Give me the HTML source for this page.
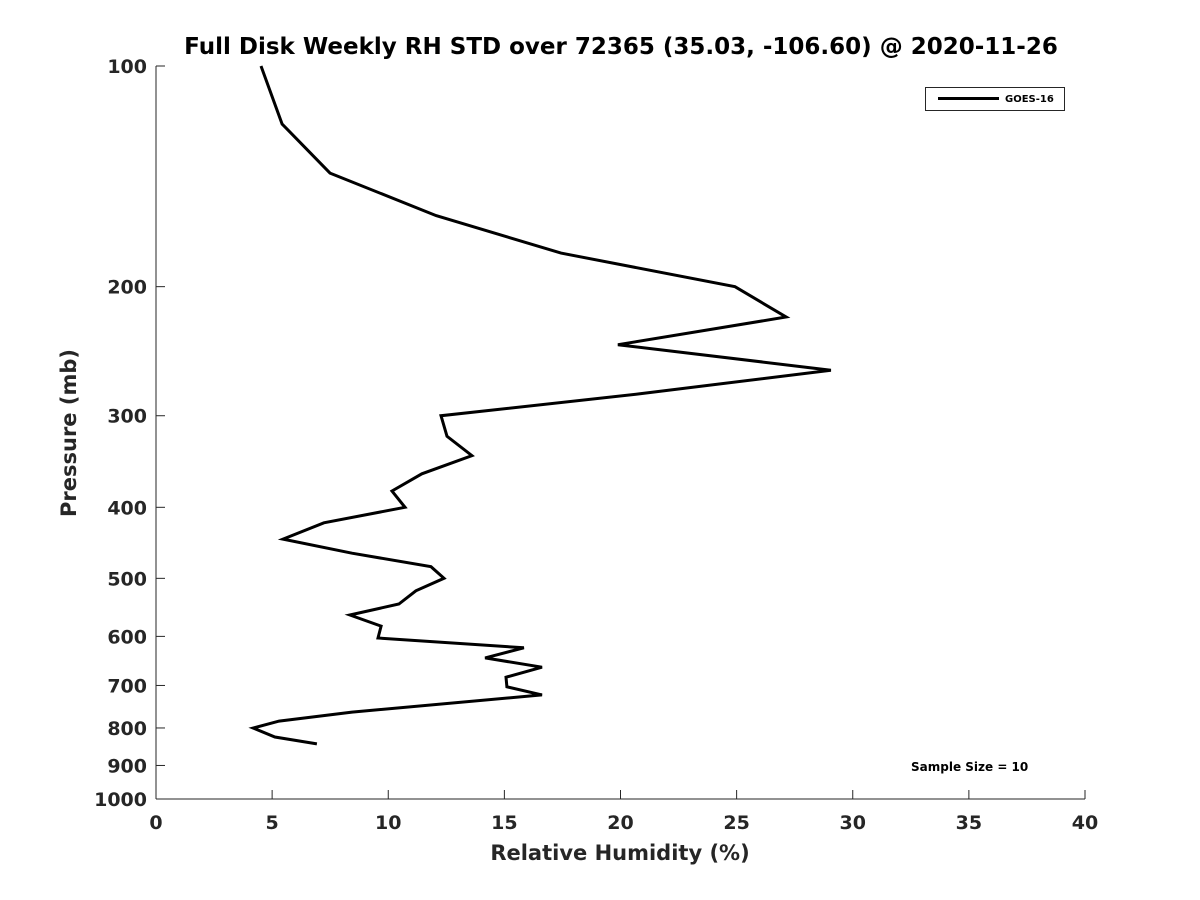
<!DOCTYPE html>
<html><head><meta charset="utf-8"><style>
body{margin:0;background:#fff}
svg{display:block;font-family:"DejaVu Sans","Liberation Sans",sans-serif;font-weight:bold}
</style></head><body>
<svg id="c" width="1200" height="900"></svg>
<script>
const rhValues=[4.52,5.43,7.49,12.06,17.44,24.93,27.13,19.89,29.06,20.84,12.27,12.53,13.6,11.45,10.16,10.72,7.23,5.47,8.44,11.84,12.4,11.19,10.46,8.35,9.69,9.56,15.84,14.17,16.62,15.07,15.11,16.62,8.44,5.3,4.18,5.12,6.93];
const pressures=[100,120,140,160,180,200,220,240,260,280,300,320,340,360,380,400,420,442,462,482,500,520,542,561,581,603,622,642,661,682,703,721,761,783,800,823,841];
const xTicks=[0,5,10,15,20,25,30,35,40];
const yTicks=[100,200,300,400,500,600,700,800,900,1000];
const NS='http://www.w3.org/2000/svg';
const svg=document.getElementById('c');
const X0=156,X1=1085,Y0=66,Y1=799;
const xs=v=>X0+(v-0)/40*(X1-X0);
const ys=p=>Y0+Math.log10(p/100)*(Y1-Y0);
function el(t,a,txt){const e=document.createElementNS(NS,t);for(const k in a)e.setAttribute(k,a[k]);if(txt!==undefined)e.textContent=txt;svg.appendChild(e);return e;}
let e;
e=el('text',{x:621,y:54,'text-anchor':'middle','font-size':23,fill:'#000'},'Full Disk Weekly RH STD over 72365 (35.03, -106.60) @ 2020-11-26');


e=el('line',{x1:X0,y1:Y0,x2:X0,y2:Y1,stroke:'#262626','stroke-width':1});


e=el('line',{x1:X0,y1:Y1,x2:X1,y2:Y1,stroke:'#262626','stroke-width':1});


xTicks.forEach(v=>{
 e=el('line',{x1:xs(v),y1:Y1,x2:xs(v),y2:Y1-9,stroke:'#262626'});
 
 
 e=el('text',{x:xs(v),y:829,'text-anchor':'middle','font-size':19,fill:'#262626'},String(v));
 
 
});
yTicks.forEach(p=>{
 e=el('line',{x1:X0,y1:ys(p),x2:X0+9,y2:ys(p),stroke:'#262626'});
 
 
 e=el('text',{x:147,y:ys(p)+7,'text-anchor':'end','font-size':19,fill:'#262626'},String(p));
 
 
});
e=el('text',{x:620,y:860,'text-anchor':'middle','font-size':21,fill:'#262626'},'Relative Humidity (%)');


e=el('text',{x:0,y:0,'text-anchor':'middle','font-size':21,fill:'#262626',transform:'translate(76,433) rotate(-90)'},'Pressure (mb)');


const pts=rhValues.map((v,i)=>xs(v).toFixed(1)+','+ys(pressures[i]).toFixed(1)).join(' ');
e=el('polyline',{points:pts,fill:'none',stroke:'#000','stroke-width':3,'stroke-linejoin':'miter'});


e=el('rect',{x:925.5,y:87.5,width:139,height:23,fill:'#fff',stroke:'#262626'});


e=el('line',{x1:938,y1:98.5,x2:999,y2:98.5,stroke:'#000','stroke-width':3});


e=el('text',{x:1005,y:102,'font-size':10,fill:'#000'},'GOES-16');


e=el('text',{x:911,y:771,'font-size':12,fill:'#000'},'Sample Size = 10');


</script>
</body></html>
